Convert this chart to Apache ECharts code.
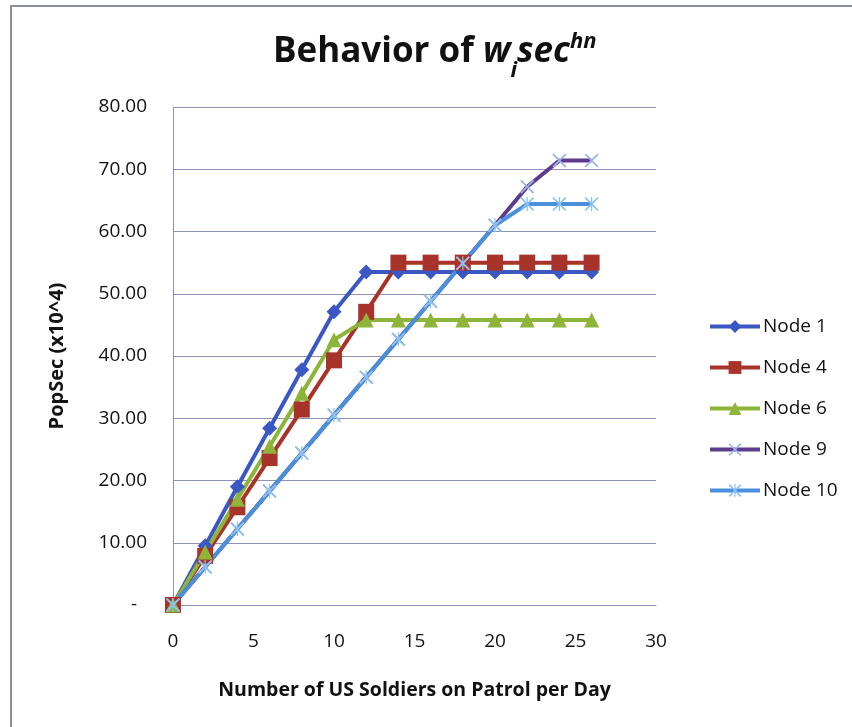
<!DOCTYPE html>
<html>
<head>
<meta charset="utf-8">
<script src="https://cdn.jsdelivr.net/npm/echarts@6/dist/echarts.min.js"></script>
<style>
  html, body { margin: 0; padding: 0; background: #ffffff; }
  #chart { width: 852px; height: 727px; }
</style>
</head>
<body>
<div id="chart"></div>
<script>
// Soldiers on patrol per day (x values)
const soldiers = [0, 2, 4, 6, 8, 10, 12, 14, 16, 18, 20, 22, 24, 26];

// PopSec (x10^4) per node
const node1  = [0, 9.5, 19.0, 28.4, 37.8, 47.1, 53.5, 53.5, 53.5, 53.5, 53.5, 53.5, 53.5, 53.5];
const node4  = [0, 7.9, 15.7, 23.6, 31.4, 39.3, 47.1, 55.0, 55.0, 55.0, 55.0, 55.0, 55.0, 55.0];
const node6  = [0, 8.5, 17.0, 25.5, 34.0, 42.6, 45.8, 45.8, 45.8, 45.8, 45.8, 45.8, 45.8, 45.8];
const node9  = [0, 6.1, 12.2, 18.3, 24.4, 30.5, 36.6, 42.7, 48.8, 54.9, 61.0, 67.2, 71.4, 71.4];
const node10 = [0, 6.1, 12.2, 18.3, 24.4, 30.5, 36.6, 42.7, 48.8, 54.9, 61.0, 64.4, 64.4, 64.4];

const seriesNames = ['Node 1', 'Node 4', 'Node 6', 'Node 9', 'Node 10'];
const yTicks = { min: 0, max: 80, interval: 10 };
const xTicks = { min: 0, max: 30, interval: 5 };

const FONT = '"Open Sans", Lato, sans-serif';

// thin "x" and asterisk markers, drawn as filled outlines
const xMark = 'path://M0,1.4L1.4,0L8,6.6L14.6,0L16,1.4L9.4,8L16,14.6L14.6,16L8,9.4L1.4,16L0,14.6L6.6,8Z';
const starMark = 'path://M0,1.4L1.4,0L8,6.6L14.6,0L16,1.4L9.4,8L16,14.6L14.6,16L8,9.4L1.4,16L0,14.6L6.6,8ZM7.3,0H8.7V16H7.3Z';

function pairs(values) {
  return soldiers.map((x, i) => [x, values[i]]);
}

function makeSeries(name, values, lineColor, markColor, symbol, size) {
  return {
    name: name,
    type: 'line',
    data: pairs(values),
    symbol: symbol,
    symbolSize: size,
    showAllSymbol: true,
    lineStyle: { color: lineColor, width: 4 },
    itemStyle: { color: markColor },
    emphasis: { disabled: true },
    z: 2
  };
}

const chart = echarts.init(document.getElementById('chart'), null, { renderer: 'canvas' });

chart.setOption({
  backgroundColor: '#ffffff',
  animation: false,
  title: {
    left: 268,
    top: 24,
    text: '{b|Behavior of }{i|w}{sub|i}{i|sec}{sup|hn}',
    textStyle: {
      rich: {
        b:   { fontFamily: FONT, fontWeight: 'bold', fontSize: 35, color: '#111111', lineHeight: 46 },
        i:   { fontFamily: FONT, fontWeight: 'bold', fontStyle: 'italic', fontSize: 35, color: '#111111', lineHeight: 46 },
        sub: { fontFamily: FONT, fontWeight: 'bold', fontStyle: 'italic', fontSize: 22, color: '#111111', lineHeight: 46, verticalAlign: 'bottom', padding: [0, 0, -7, 0] },
        sup: { fontFamily: FONT, fontWeight: 'bold', fontStyle: 'italic', fontSize: 22, color: '#111111', lineHeight: 46, verticalAlign: 'top', padding: [2, 0, 0, 0] }
      }
    }
  },
  graphic: [{
    type: 'rect',
    shape: { x: 11, y: 6, width: 900, height: 800 },
    style: { fill: 'none', stroke: '#8c909c', lineWidth: 2 },
    silent: true,
    z: -1
  }],
  legend: {
    orient: 'vertical',
    left: 703,
    top: 312,
    itemWidth: 50,
    itemHeight: 16,
    itemGap: 22,
    data: seriesNames,
    lineStyle: { width: 4 },
    textStyle: { fontFamily: FONT, fontSize: 19, color: '#111111', padding: [0, 0, 0, -2] }
  },
  grid: { left: 173, top: 107, right: 196, bottom: 122, containLabel: false },
  xAxis: {
    type: 'value',
    min: xTicks.min,
    max: xTicks.max,
    interval: xTicks.interval,
    name: 'Number of US Soldiers on Patrol per Day',
    nameLocation: 'middle',
    nameGap: 75,
    nameTextStyle: { fontFamily: FONT, fontWeight: 'bold', fontSize: 19.5, color: '#111111' },
    axisLine: { show: true, lineStyle: { color: '#8e92b8', width: 1 } },
    axisTick: { show: false },
    splitLine: { show: false },
    axisLabel: { margin: 27, fontFamily: FONT, fontSize: 19, color: '#111111' }
  },
  yAxis: {
    type: 'value',
    min: yTicks.min,
    max: yTicks.max,
    interval: yTicks.interval,
    name: 'PopSec (x10^4)',
    nameLocation: 'middle',
    nameRotate: 90,
    nameGap: 106,
    nameTextStyle: { fontFamily: FONT, fontWeight: 'bold', fontSize: 20, color: '#111111' },
    axisLine: { show: true, lineStyle: { color: '#8e92b8', width: 1 } },
    axisTick: { show: false },
    splitLine: { show: true, lineStyle: { color: '#8e92b8', width: 1 } },
    axisLabel: {
      margin: 26,
      fontFamily: FONT,
      fontSize: 19,
      color: '#111111',
      formatter: v => (v === 0 ? '-  ' : v.toFixed(2))
    }
  },
  series: [
    makeSeries('Node 1',  node1,  '#3a57c4', '#3a57c4', 'diamond', 15),
    makeSeries('Node 4',  node4,  '#a8332a', '#a8332a', 'rect', 16),
    makeSeries('Node 6',  node6,  '#8cb53a', '#8cb53a', 'triangle', 15),
    makeSeries('Node 9',  node9,  '#5d3b8e', '#9bb3e6', xMark, 14),
    makeSeries('Node 10', node10, '#4a8fdc', '#8cc0ee', starMark, 14)
  ]
});
</script>
</body>
</html>
